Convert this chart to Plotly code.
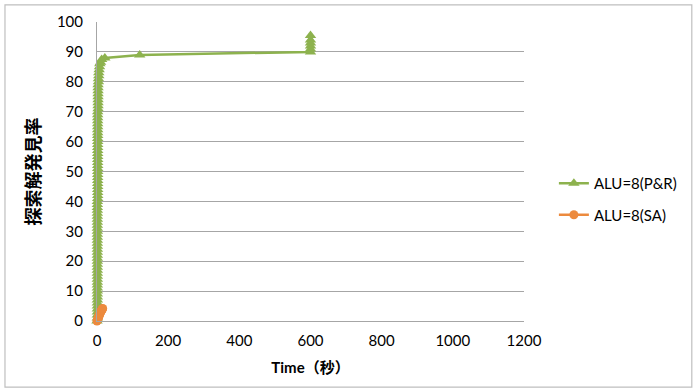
import plotly.graph_objects as go

# ALU=8(P&R)
pr_time = [0, 1, 1, 1, 1, 1, 1, 1, 1, 1, 1, 1, 1, 1, 1, 1, 1, 1, 1, 1, 1,
           1, 1, 1, 1, 1, 1, 1, 1, 1, 1, 1, 1, 1, 1, 1, 1, 1, 1, 1, 1,
           2, 2, 2, 2, 2, 2, 2, 2, 2, 2, 2, 2, 2, 2, 2, 2, 2, 2, 2, 2,
           2, 2, 2, 2, 2, 2, 2, 2, 2, 2, 3, 3, 3, 3, 3, 3, 3, 3, 3, 4,
           4, 5, 5, 6, 7, 8, 10, 13, 22, 120,
           600, 600, 600, 600, 600, 600]
pr_rate = [0, 1, 2, 3, 4, 5, 6, 7, 8, 9, 10, 11, 12, 13, 14, 15, 16, 17, 18, 19, 20,
           21, 22, 23, 24, 25, 26, 27, 28, 29, 30, 31, 32, 33, 34, 35, 36, 37, 38, 39, 40,
           41, 42, 43, 44, 45, 46, 47, 48, 49, 50, 51, 52, 53, 54, 55, 56, 57, 58, 59, 60,
           61, 62, 63, 64, 65, 66, 67, 68, 69, 70, 71, 72, 73, 74, 75, 76, 77, 78, 79, 80,
           81, 82, 83, 84, 85, 86, 86.5, 87.5, 88, 89,
           90, 91, 92, 93, 94, 95.5]

# ALU=8(SA)
sa_time = [0, 1, 2, 3, 4, 5, 6, 7, 8, 9, 10, 11, 12, 13, 14, 15, 16]
sa_rate = [0, 0.3, 0.6, 0.9, 1.2, 1.5, 1.8, 2.1, 2.4, 2.7, 3.0, 3.2, 3.4, 3.6, 3.8, 4.0, 4.2]

x_ticks = [0, 200, 400, 600, 800, 1000, 1200]
y_ticks = [0, 10, 20, 30, 40, 50, 60, 70, 80, 90, 100]

GREEN = "#8DB24E"
ORANGE = "#EC8A3E"
GRID = "#A6A6A6"
FONT = "Lato, 'Noto Sans CJK JP', sans-serif"

fig = go.Figure()
fig.add_trace(go.Scatter(
    x=pr_time, y=pr_rate, name="ALU=8(P&R)", mode="lines+markers",
    line=dict(color=GREEN, width=2.5),
    marker=dict(symbol="triangle-up", size=10, color=GREEN),
    cliponaxis=False, legendgroup="a"))
fig.add_trace(go.Scatter(
    x=sa_time, y=sa_rate, name="ALU=8(SA)", mode="lines+markers",
    line=dict(color=ORANGE, width=2.5),
    marker=dict(symbol="circle", size=9, color=ORANGE),
    cliponaxis=False, legendgroup="b"))

fig.update_layout(
    width=696, height=392,
    margin=dict(l=97, r=172, t=22, b=71),
    paper_bgcolor="white", plot_bgcolor="white",
    font=dict(family=FONT, size=15, color="#000000"),
    showlegend=True,
    legend=dict(x=1.07, y=0.408, xanchor="left", yanchor="middle",
                font=dict(size=15), tracegroupgap=9, itemwidth=30,
                bgcolor="rgba(0,0,0,0)"),
    xaxis=dict(range=[0, 1200], tickvals=x_ticks, showgrid=False,
               showline=True, linecolor=GRID, linewidth=1, zeroline=False,
               ticks="", tickfont=dict(size=15), ticklabelstandoff=6,
               title=dict(text="<b>Time（秒）</b>", font=dict(size=15), standoff=14)),
    yaxis=dict(range=[0, 100], tickvals=y_ticks, showgrid=True, gridcolor=GRID,
               gridwidth=1, showline=True, linecolor=GRID, linewidth=1,
               zeroline=False, ticks="", tickfont=dict(size=15), ticklabelstandoff=10,
               title=dict(text="<b>探索解発見率</b>", font=dict(size=18), standoff=11)),
    shapes=[dict(type="rect", xref="paper", yref="paper",
                 x0=-0.2155, x1=1.393, y0=-0.221, y1=1.057,
                 line=dict(color="#BFBFBF", width=1.2), layer="below")],
)

fig.write_html("out.html")
